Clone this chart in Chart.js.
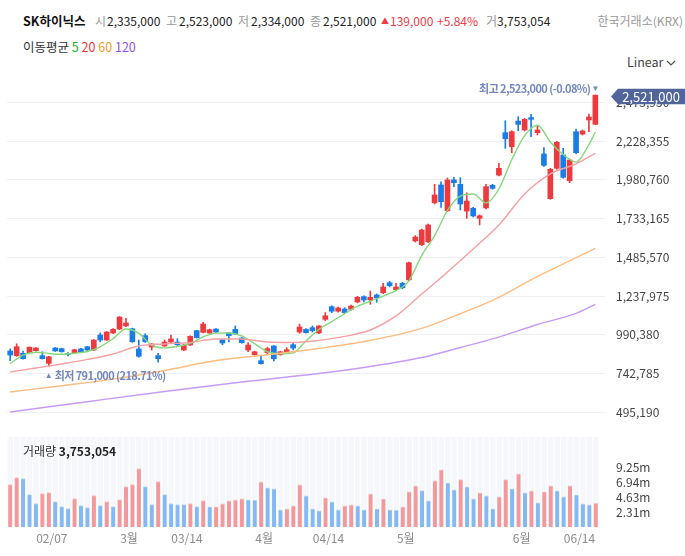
<!DOCTYPE html>
<html><head><meta charset="utf-8">
<script src="https://cdn.jsdelivr.net/npm/chart.js@4.4.1/dist/chart.umd.min.js"></script>
<style>
body{margin:0;width:685px;height:556px;background:#fff;position:relative;overflow:hidden;font-family:"Noto Sans CJK KR","Noto Sans",sans-serif;}
.t{position:absolute;white-space:nowrap;line-height:14px;font-size:12px;color:#222;z-index:2;}
.h{top:14px;}
.g{color:#999;}
.r{color:#ee3a45;}
canvas{position:absolute;left:0;}
</style></head><body>
<div class="t h" style="left:23px;font-weight:bold;color:#111;font-size:12.5px">SK하이닉스</div>
<div class="t h g" style="left:95px">시</div><div class="t h" style="left:107px">2,335,000</div>
<div class="t h g" style="left:166px">고</div><div class="t h" style="left:179px">2,523,000</div>
<div class="t h g" style="left:238px">저</div><div class="t h" style="left:251px">2,334,000</div>
<div class="t h g" style="left:310px">종</div><div class="t h" style="left:323px">2,521,000</div>
<div class="t h r" style="left:381px;font-size:8px">▲</div>
<div class="t h r" style="left:390px">139,000</div><div class="t h r" style="left:437px">+5.84%</div>
<div class="t h g" style="left:486px">거</div><div class="t h" style="left:497px">3,753,054</div>
<div class="t h g" style="right:2px">한국거래소(KRX)</div>
<div class="t" style="left:23px;top:40px;color:#333;font-size:12.5px">이동평균 <span style="color:#22b022">5</span> <span style="color:#f0323c">20</span> <span style="color:#f79a1e">60</span> <span style="color:#9150f5">120</span></div>
<div class="t" style="left:627px;top:55px;color:#444;font-size:12.5px">Linear</div>
<svg style="position:absolute;left:666px;top:59px;z-index:2" width="10" height="8"><polyline points="1,2 5,6 9,2" fill="none" stroke="#555" stroke-width="1.2"/></svg>
<div class="t" style="left:23px;top:444px;font-size:12px;color:#333">거래량 <b style="color:#222">3,753,054</b></div>
<canvas id="price" width="685" height="350" style="top:75px"></canvas>
<canvas id="vol" width="685" height="126" style="top:430px"></canvas>
<script>
// ---- data (KRW) ----
const candleOpen = [887000,857000,872000,876000,889000,857000,808000,906000,902000,867000,876000,900000,914000,893000,989000,957000,1002000,1027000,1047000,1029000,900000,985000,912000,857000,919000,944000,944000,893000,925000,1017000,1006000,1002000,1027000,959000,1002000,1025000,970000,893000,863000,825000,876000,919000,863000,876000,927000,1008000,1025000,1036000,1002000,1089000,1170000,1141000,1155000,1153000,1200000,1234000,1213000,1245000,1259000,1323000,1279000,1319000,1341000,1590000,1566000,1585000,1834000,1948000,1783000,1980000,1952000,1781000,1799000,1735000,1801000,1946000,2011000,2282000,2192000,2356000,2299000,2378000,2282000,2146000,1860000,2054000,2139000,1975000,2288000,2273000,2363000,2335000];
const candleHigh = [900000,933000,887000,913000,909000,882000,853000,909000,905000,877000,898000,904000,917000,960000,1002000,1011000,1030000,1107000,1096000,1033000,957000,997000,935000,872000,957000,989000,966000,928000,984000,1020000,1070000,1027000,1030000,962000,1005000,1047000,973000,940000,886000,859000,911000,922000,886000,908000,940000,1059000,1030000,1047000,1050000,1132000,1176000,1168000,1164000,1181000,1236000,1240000,1270000,1251000,1319000,1332000,1319000,1326000,1455000,1624000,1666000,1698000,1952000,1967000,1992000,1997000,1994000,1898000,1805000,1757000,1952000,1952000,2086000,2358000,2294000,2384000,2373000,2399000,2326000,2186000,2054000,2226000,2182000,2114000,2305000,2299000,2401000,2523000];
const candleLow = [825000,852000,834000,873000,886000,835000,791000,884000,880000,855000,873000,876000,890000,889000,945000,954000,998000,1024000,1043000,942000,847000,942000,893000,815000,916000,941000,914000,890000,922000,969000,1003000,999000,1005000,927000,945000,992000,937000,882000,860000,802000,861000,823000,860000,873000,893000,1000000,1000000,1008000,998000,1080000,1132000,1135000,1125000,1147000,1194000,1200000,1185000,1198000,1253000,1296000,1272000,1285000,1335000,1583000,1560000,1579000,1826000,1805000,1777000,1937000,1788000,1735000,1743000,1692000,1795000,1920000,2005000,2182000,2154000,2294000,2293000,2256000,2267000,2067000,1856000,2048000,1991000,1962000,2148000,2267000,2288000,2334000];
const candleClose = [861000,914000,838000,911000,906000,838000,850000,887000,882000,865000,895000,879000,893000,957000,957000,1008000,1025000,1104000,1066000,946000,853000,946000,932000,838000,944000,964000,927000,925000,981000,972000,1059000,1023000,1008000,938000,985000,995000,940000,925000,882000,806000,902000,838000,882000,895000,906000,1040000,1004000,1017000,1047000,1112000,1141000,1162000,1132000,1174000,1230000,1213000,1230000,1226000,1296000,1304000,1296000,1291000,1451000,1615000,1660000,1692000,1884000,1841000,1980000,1962000,1826000,1845000,1750000,1751000,1937000,1926000,2054000,2243000,2288000,2335000,2367000,2367000,2299000,2073000,2048000,2220000,1997000,2107000,2154000,2293000,2382000,2521000];
// volume in millions of shares
const volumeM = [6.64,7.73,7.57,5.07,3.67,5.23,5.39,3.98,3.20,2.89,4.45,3.35,3.04,4.92,3.35,3.98,3.20,4.29,6.32,6.64,9.14,6.32,3.51,7.10,5.07,3.67,3.51,3.49,3.67,3.20,4.14,3.15,3.17,3.61,4.08,4.24,4.40,4.24,4.22,7.05,6.11,5.96,2.68,2.83,3.30,6.58,4.86,2.83,2.52,4.55,3.93,2.68,3.30,3.46,3.30,2.68,5.18,2.83,4.40,2.68,2.66,3.15,5.49,6.43,5.70,4.08,7.21,8.93,6.90,5.80,7.42,6.27,4.40,5.33,4.86,2.83,4.71,7.42,5.96,8.30,5.33,5.65,3.77,5.49,6.43,5.65,4.71,6.43,5.02,3.61,3.46,3.75];
// moving averages (bar index -> value)
const ma5Idx = [0,2,4,6,8,10,12,14,16,18,20,22,24,26,28,30,32,34,36,38,40,42,44,46,48,50,52,54,56,58,60,62,64,66,68,70,72,74,76,78,80,82,84,86,88,90,91];
const ma5Val = [807000,861000,879000,871000,866000,873000,884000,914000,966000,1027000,999000,925000,907000,916000,935000,977000,1001000,1002000,984000,934000,882000,869000,875000,951000,1024000,1075000,1125000,1173000,1204000,1238000,1273000,1335000,1498000,1624000,1785000,1877000,1890000,1833000,1922000,2109000,2263000,2329000,2222000,2142000,2094000,2206000,2286000];
const ma20Idx = [0,4,8,12,16,20,24,28,32,36,40,44,48,52,56,60,64,68,72,76,80,84,88,91];
const ma20Val = [753000,778000,804000,833000,868000,919000,932000,941000,964000,964000,944000,941000,955000,980000,1021000,1111000,1251000,1392000,1539000,1692000,1890000,2018000,2082000,2150000];
const ma60Idx = [0,8,16,24,32,40,48,56,64,70,76,82,86,91];
const ma60Val = [625000,665000,707000,762000,826000,863000,903000,954000,1031000,1125000,1230000,1363000,1443000,1543000];
const ma120Idx = [0,12,24,36,48,56,64,70,76,82,88,91];
const ma120Val = [497000,563000,628000,689000,743000,788000,845000,909000,976000,1056000,1127000,1185000];
const priceTicks = [495190,742785,990380,1237975,1485570,1733165,1980760,2228355,2475950];
const volTicks = [2.3125,4.625,6.9375,9.25];
const volTickLabels = ['2.31m','4.63m','6.94m','9.25m'];
const xTickIdx = [6,18,27,39,49,61,79,88];
const xTickText = ['02/07','3월','03/14','4월','04/14','5월','6월','06/14'];

// ---- rendering ----
Chart.defaults.font.family = '"Noto Sans CJK KR","Noto Sans",sans-serif';
Chart.defaults.animation = false;
const UP = '#ec3a3e', DOWN = '#1a7de6';
const N = candleOpen.length;
const priceLabels = Array.from({length: N + 1}, (_, i) => String(i));
const cColors = candleOpen.map((o, i) => candleClose[i] > o ? UP : DOWN);
function sparse(idx, val) { const a = new Array(N + 1).fill(null); idx.forEach((k, j) => a[k] = val[j]); return a; }
const fmt = v => v.toLocaleString('en-US');

const priceAnno = {
  id: 'priceAnno',
  afterDraw(chart) {
    const {ctx, scales: {x, y}} = chart;
    const last = N - 1;
    const hiV = Math.max(...candleHigh), hiI = candleHigh.indexOf(hiV);
    const loV = Math.min(...candleLow), loI = candleLow.indexOf(loV);
    const lastC = candleClose[last];
    ctx.save();
    ctx.fillStyle = '#7586bd';
    ctx.textBaseline = 'middle';
    const hx = x.getPixelForValue(hiI), hy = y.getPixelForValue(hiV);
    ctx.font = '8px sans-serif'; ctx.textAlign = 'center';
    ctx.fillText('▼', hx, hy - 6);
    ctx.font = 'bold 11px "Noto Sans CJK KR"'; ctx.textAlign = 'right';
    ctx.letterSpacing = '-0.6px';
    const hp = ((lastC - hiV) / hiV * 100).toFixed(2);
    ctx.fillText('최고 ' + fmt(hiV) + ' (' + hp + '%)', hx - 5, hy - 6);
    const lx = x.getPixelForValue(loI), ly = y.getPixelForValue(loV);
    ctx.letterSpacing = '0px';
    ctx.font = '8px sans-serif'; ctx.textAlign = 'center';
    ctx.fillText('▲', lx, ly + 10);
    ctx.font = 'bold 11px "Noto Sans CJK KR"'; ctx.textAlign = 'left';
    ctx.letterSpacing = '-0.6px';
    const lp = ((lastC - loV) / loV * 100).toFixed(2);
    ctx.fillText('최저 ' + fmt(loV) + ' (' + lp + '%)', lx + 6, ly + 10);
    ctx.letterSpacing = '0px';
    // current price tag
    const yc = y.getPixelForValue(lastC);
    ctx.fillStyle = '#52659b';
    ctx.beginPath();
    ctx.moveTo(611, yc + 1.2); ctx.lineTo(618, yc - 6.5); ctx.lineTo(685, yc - 6.5);
    ctx.lineTo(685, yc + 9); ctx.lineTo(618, yc + 9); ctx.closePath(); ctx.fill();
    ctx.fillStyle = '#fff'; ctx.font = '13px "Noto Sans CJK KR"'; ctx.textAlign = 'center';
    ctx.fillText(fmt(lastC), 651, yc + 1.5);
    ctx.restore();
  }
};

const lineDs = (data, color) => ({type: 'line', data, borderColor: color, borderWidth: 1.4, pointRadius: 0, spanGaps: true, cubicInterpolationMode: 'monotone', order: 0});

new Chart(document.getElementById('price'), {
  type: 'bar',
  data: {
    labels: priceLabels,
    datasets: [
      lineDs(sparse(ma120Idx, ma120Val), '#c69bf7'),
      lineDs(sparse(ma60Idx, ma60Val), '#fdbd80'),
      lineDs(sparse(ma20Idx, ma20Val), '#f6a0a4'),
      lineDs(sparse(ma5Idx, ma5Val), '#85d77c'),
      {data: candleOpen.map((o, i) => [o, candleClose[i]]), backgroundColor: cColors, barThickness: 5, minBarLength: 1, grouped: false, order: 1},
      {data: candleLow.map((l, i) => [l, candleHigh[i]]), backgroundColor: cColors, barThickness: 1, grouped: false, order: 2}
    ]
  },
  options: {
    responsive: false, maintainAspectRatio: false,
    layout: {padding: {left: 7, right: 0, top: 0, bottom: 0}},
    plugins: {legend: {display: false}, tooltip: {enabled: false}},
    scales: {
      x: {type: 'category', display: false, offset: true},
      y: {
        position: 'right', min: 414043, max: 2650368,
        afterBuildTicks: s => { s.ticks = priceTicks.map(v => ({value: v})); },
        afterFit: s => { s.width = 80; s.paddingTop = 0; s.paddingBottom = 0; },
        grid: {color: '#eef0f4', drawTicks: false},
        border: {display: false},
        ticks: {padding: 11, color: '#444', font: {size: 12}, callback: v => fmt(v)}
      }
    }
  },
  plugins: [priceAnno]
});

const stripes = {
  id: 'stripes',
  beforeDatasetsDraw(chart) {
    const {ctx, chartArea: a, scales: {x}} = chart;
    ctx.save(); ctx.fillStyle = '#f5f7fb';
    for (let i = 0; i < N; i++) { const cx = x.getPixelForValue(i); ctx.fillRect(cx - 2.7, a.top, 5.4, a.bottom - a.top); }
    ctx.restore();
  }
};
const dayLabels = new Array(N).fill('');
xTickIdx.forEach((k, j) => dayLabels[k] = xTickText[j]);
const vUp = volumeM.map((v, i) => i === 0 || v > volumeM[i - 1]);

new Chart(document.getElementById('vol'), {
  type: 'bar',
  data: {
    labels: dayLabels,
    datasets: [{
      data: volumeM,
      backgroundColor: vUp.map(u => u ? '#f3989b' : '#85b9f3'),
      borderColor: vUp.map(u => u ? '#f8c6c8' : '#bcd8f8'),
      borderWidth: {top: 1, left: 0, right: 0, bottom: 0},
      borderSkipped: 'bottom',
      barThickness: 4
    }]
  },
  options: {
    responsive: false, maintainAspectRatio: false,
    layout: {padding: {left: 7, right: 0, top: 7, bottom: 0}},
    plugins: {legend: {display: false}, tooltip: {enabled: false}},
    scales: {
      x: {
        offset: true, grid: {display: false, drawTicks: false}, border: {display: false},
        afterFit: s => { s.height = 29; s.paddingLeft = 0; s.paddingRight = 0; },
        ticks: {autoSkip: false, maxRotation: 0, padding: 4, labelOffset: 3, color: '#8c8c8c', font: {size: 12}, callback: (v, i) => dayLabels[i]}
      },
      y: {
        position: 'right', min: 0, max: 14.06,
        afterBuildTicks: s => { s.ticks = volTicks.map(v => ({value: v})); },
        afterFit: s => { s.width = 86; s.paddingTop = 0; s.paddingBottom = 0; },
        grid: {display: false, drawTicks: false}, border: {display: false},
        ticks: {padding: 17, color: '#444', font: {size: 12}, callback: (v, i) => volTickLabels[i]}
      }
    }
  },
  plugins: [stripes]
});
</script>
</body></html>
